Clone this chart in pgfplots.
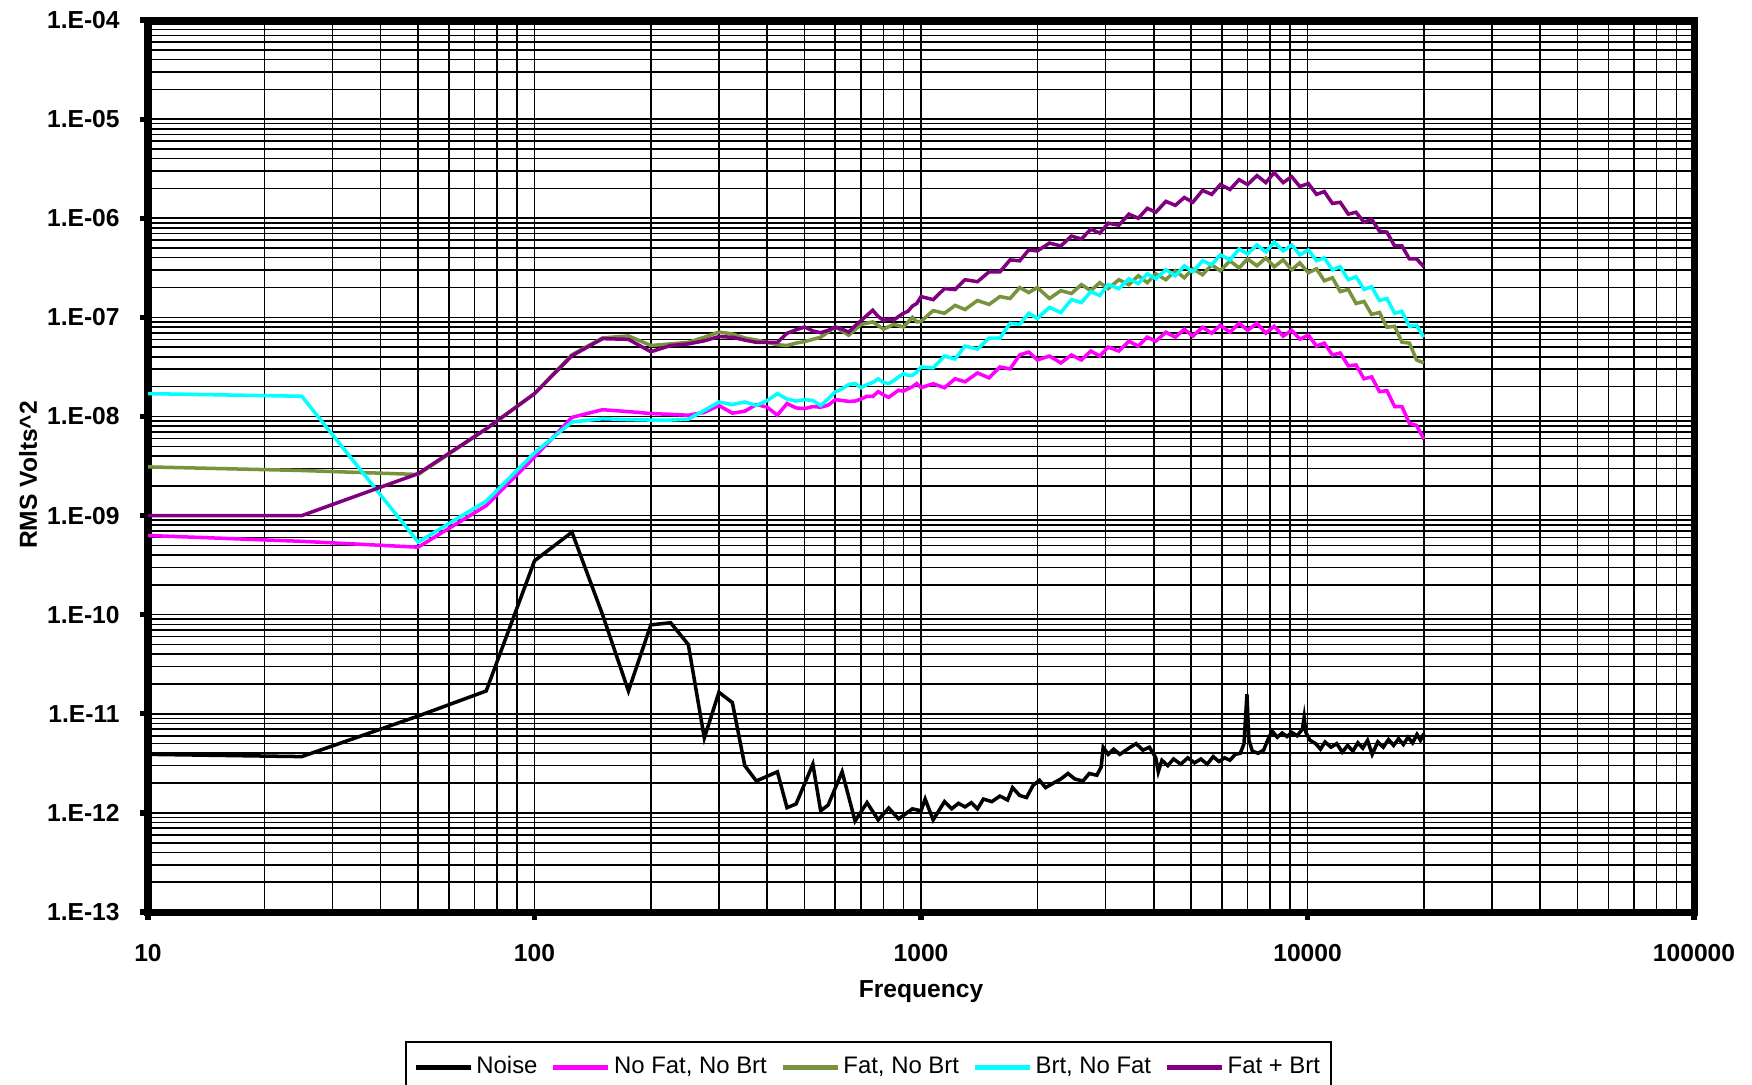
\documentclass[border=0pt]{standalone}
\usepackage{fontspec}
\setmainfont{Liberation Sans}
\usepackage{pgfplots}
\pgfplotsset{compat=1.18}
\definecolor{nofat}{RGB}{255,0,255}
\definecolor{fatnobrt}{RGB}{119,147,60}
\definecolor{brtnofat}{RGB}{0,255,255}
\definecolor{fatbrt}{RGB}{128,0,128}

\begin{document}
\begin{tikzpicture}
\begin{axis}[
  at={(0,0)}, anchor=south west,
  width=15.46cm, height=8.92cm, scale only axis,
  xmode=log, ymode=log,
  xmin=10, xmax=100000, ymin=1e-13, ymax=1e-4,
  xtick={10,100,1000,10000,100000},
  xticklabels={10,100,1000,10000,100000},
  ytick={1e-13,1e-12,1e-11,1e-10,1e-9,1e-8,1e-7,1e-6,1e-5,1e-4},
  yticklabels={1.E-13,1.E-12,1.E-11,1.E-10,1.E-09,1.E-08,1.E-07,1.E-06,1.E-05,1.E-04},
  xmajorgrids, xminorgrids, ymajorgrids, yminorgrids,
  major grid style={black, line width=0.45pt},
  minor grid style={black, line width=0.45pt},
  axis line style={line width=2pt},
  tick style={black, line width=1.5pt},
  major tick length=0.08cm, minor tick length=0pt,
  tick align=outside, xtick pos=left, ytick pos=left,
  tick label style={font=\fontsize{7}{8}\selectfont\bfseries},
  xticklabel style={yshift=-0.12cm},
  yticklabel style={xshift=-0.08cm},
  xlabel={Frequency}, ylabel={RMS Volts\textasciicircum 2},
  label style={font=\fontsize{7}{8}\selectfont\bfseries},
  xlabel style={at={(axis description cs:0.5,-0.0897)}, anchor=center},
  ylabel style={at={(axis description cs:-0.0776,0.49)}, anchor=center},
  legend columns=5, legend cell align=left,
  legend style={at={(axis description cs:0.466,-0.1446)}, anchor=north,
    draw=black, line width=0.6pt, inner sep=2pt,
    font=\fontsize{6.8}{8}\selectfont,
    nodes={inner xsep=1pt},
    /tikz/every even column/.append style={column sep=0.1cm}},
  legend image code/.code={\draw[#1, line width=1.3pt] (0cm,0cm) -- (0.55cm,0cm);},
]
% Noise
\addplot[black, line width=1pt] coordinates {
  (10,3.9e-12)(25,3.7e-12)(50,9.5e-12)(75,1.7e-11)(100,3.5e-10)(125,6.8e-10)
  (150,1.0e-10)(175,1.7e-11)(200,7.9e-11)(225,8.3e-11)(250,5.0e-11)(275,5.7e-12)
  (300,1.65e-11)(325,1.3e-11)(350,3.0e-12)(375,2.1e-12)(425,2.6e-12)(450,1.13e-12)
  (475,1.23e-12)(525,3.1e-12)(550,1.05e-12)(575,1.2e-12)(625,2.6e-12)(675,8.3e-13)
  (725,1.27e-12)(775,8.5e-13)(825,1.12e-12)(875,8.7e-13)(950,1.1e-12)(1000,1.05e-12)
  (1025,1.38e-12)(1075,8.5e-13)(1150,1.3e-12)(1200,1.1e-12)(1250,1.25e-12)(1300,1.15e-12)
  (1350,1.27e-12)(1400,1.1e-12)(1450,1.38e-12)(1525,1.3e-12)(1600,1.48e-12)(1675,1.35e-12)
  (1725,1.8e-12)(1800,1.5e-12)(1875,1.43e-12)(1950,1.9e-12)(2025,2.14e-12)(2100,1.8e-12)
  (2200,2.0e-12)(2300,2.2e-12)(2400,2.5e-12)(2500,2.2e-12)(2625,2.1e-12)(2725,2.5e-12)
  (2850,2.4e-12)(2925,2.9e-12)(2960,4.6e-12)(3050,3.9e-12)(3150,4.4e-12)(3270,3.9e-12)
  (3450,4.5e-12)(3600,5.0e-12)(3750,4.3e-12)(3900,4.6e-12)(4050,3.6e-12)(4110,2.6e-12)
  (4200,3.4e-12)(4350,3.0e-12)(4500,3.5e-12)(4700,3.1e-12)(4900,3.6e-12)(5100,3.2e-12)
  (5300,3.5e-12)(5500,3.1e-12)(5700,3.7e-12)(5900,3.3e-12)(6100,3.6e-12)(6300,3.4e-12)
  (6500,3.9e-12)(6700,4.0e-12)(6850,5.0e-12)(6970,1.58e-11)(7050,5.5e-12)(7200,4.2e-12)
  (7450,4.0e-12)(7700,4.3e-12)(7900,5.5e-12)(8100,6.7e-12)(8350,5.8e-12)(8600,6.4e-12)
  (8850,5.9e-12)(9100,6.5e-12)(9400,6.0e-12)(9700,7.0e-12)(9800,9.2e-12)(9900,6.5e-12)
  (10150,5.4e-12)(10500,5.0e-12)(10800,4.4e-12)(11100,5.2e-12)(11500,4.6e-12)(11900,5.0e-12)
  (12300,4.1e-12)(12700,4.8e-12)(13100,4.2e-12)(13500,5.1e-12)(13900,4.5e-12)(14300,5.4e-12)
  (14700,3.9e-12)(15200,5.2e-12)(15700,4.6e-12)(16200,5.5e-12)(16700,4.8e-12)(17200,5.6e-12)
  (17700,4.9e-12)(18200,5.8e-12)(18700,5.1e-12)(19200,6.2e-12)(19600,5.4e-12)(20000,6.3e-12)
};
\addlegendentry{Noise}
% No Fat, No Brt
\addplot[nofat, line width=1pt] coordinates {
  (10,6.3e-10)(25,5.5e-10)(50,4.8e-10)(75,1.26e-9)(100,3.9e-9)(125,9.8e-9)
  (150,1.17e-8)(175,1.12e-8)(200,1.07e-8)(225,1.05e-8)(250,1.03e-8)(275,1.1e-8)
  (300,1.29e-8)(325,1.08e-8)(350,1.13e-8)(375,1.32e-8)(400,1.24e-8)(425,1.03e-8)
  (450,1.35e-8)(475,1.22e-8)(500,1.2e-8)(525,1.26e-8)(550,1.24e-8)(575,1.3e-8)
  (600,1.48e-8)(625,1.45e-8)(650,1.42e-8)(675,1.43e-8)(700,1.5e-8)(725,1.6e-8)
  (750,1.59e-8)(775,1.78e-8)(800,1.65e-8)(825,1.56e-8)(850,1.7e-8)(875,1.84e-8)
  (900,1.8e-8)(925,1.9e-8)(950,2.0e-8)(975,2.15e-8)
  (1000,1.95e-8)(1075,2.14e-8)(1150,1.95e-8)(1225,2.40e-8)(1300,2.24e-8)(1400,2.75e-8)
  (1500,2.45e-8)(1600,3.16e-8)(1700,3.02e-8)(1800,4.17e-8)(1900,4.47e-8)(2000,3.72e-8)
  (2150,4.07e-8)(2300,3.47e-8)(2450,4.17e-8)(2600,3.72e-8)(2750,4.57e-8)(2900,4.07e-8)
  (3050,5.01e-8)(3250,4.57e-8)(3450,5.75e-8)(3650,5.13e-8)(3850,6.31e-8)(4050,5.75e-8)
  (4300,7.08e-8)(4550,6.31e-8)(4800,7.59e-8)(5050,6.46e-8)(5350,7.94e-8)(5650,6.92e-8)
  (5950,8.32e-8)(6300,7.08e-8)(6650,8.71e-8)(7000,7.41e-8)(7400,8.71e-8)(7800,6.92e-8)
  (8200,8.13e-8)(8650,6.46e-8)(9100,7.41e-8)(9550,6.03e-8)(10050,6.61e-8)(10550,5.13e-8)
  (11050,5.50e-8)(11600,4.17e-8)(12150,4.37e-8)(12750,3.24e-8)(13350,3.31e-8)(14000,2.40e-8)
  (14650,2.51e-8)(15350,1.78e-8)(16050,1.82e-8)(16800,1.26e-8)(17550,1.26e-8)(18350,8.51e-9)
  (19150,8.13e-9)(20000,5.89e-9)
};
\addlegendentry{No Fat,  No Brt}
% Fat, No Brt
\addplot[fatnobrt, line width=1pt] coordinates {
  (10,3.1e-9)(25,2.85e-9)(50,2.6e-9)(75,7.5e-9)(100,1.7e-8)(125,4.2e-8)
  (150,6.2e-8)(175,6.5e-8)(200,5.2e-8)(225,5.4e-8)(250,5.6e-8)(275,6.3e-8)
  (300,7.1e-8)(325,6.8e-8)(350,6.2e-8)(375,5.9e-8)(400,5.6e-8)(425,5.3e-8)
  (450,5.2e-8)(475,5.5e-8)(500,5.7e-8)(550,6.3e-8)(600,8.0e-8)(650,6.6e-8)
  (700,8.5e-8)(750,9.0e-8)(800,7.6e-8)(850,8.5e-8)(900,8.0e-8)(950,1.0e-7)(975,9.0e-8)
  (1000,9.12e-8)(1075,1.17e-7)(1150,1.10e-7)(1225,1.32e-7)(1300,1.20e-7)(1400,1.48e-7)
  (1500,1.35e-7)(1600,1.62e-7)(1700,1.55e-7)(1800,2.00e-7)(1900,1.78e-7)(2000,2.00e-7)
  (2150,1.55e-7)(2300,1.86e-7)(2450,1.74e-7)(2600,2.14e-7)(2750,1.86e-7)(2900,2.24e-7)
  (3050,1.95e-7)(3250,2.40e-7)(3450,2.14e-7)(3650,2.63e-7)(3850,2.24e-7)(4050,2.75e-7)
  (4300,2.40e-7)(4550,2.95e-7)(4800,2.51e-7)(5050,3.09e-7)(5350,2.69e-7)(5650,3.39e-7)
  (5950,2.95e-7)(6300,3.72e-7)(6650,3.16e-7)(7000,3.89e-7)(7400,3.31e-7)(7800,3.98e-7)
  (8200,3.24e-7)(8650,3.80e-7)(9100,3.02e-7)(9550,3.55e-7)(10050,2.82e-7)(10550,3.09e-7)
  (11050,2.34e-7)(11600,2.51e-7)(12150,1.82e-7)(12750,1.91e-7)(13350,1.38e-7)(14000,1.45e-7)
  (14650,1.07e-7)(15350,1.12e-7)(16050,7.94e-8)(16800,8.13e-8)(17550,5.62e-8)(18350,5.50e-8)
  (19150,3.72e-8)(20000,3.47e-8)
};
\addlegendentry{Fat, No Brt}
% Brt, No Fat
\addplot[brtnofat, line width=1pt] coordinates {
  (10,1.7e-8)(25,1.6e-8)(50,5.4e-10)(75,1.4e-9)(100,4.3e-9)(125,8.8e-9)
  (150,9.5e-9)(175,9.3e-9)(200,9.2e-9)(225,9.2e-9)(250,9.4e-9)(275,1.15e-8)
  (300,1.4e-8)(325,1.32e-8)(350,1.4e-8)(375,1.29e-8)(400,1.45e-8)(425,1.7e-8)
  (450,1.5e-8)(475,1.43e-8)(500,1.48e-8)(525,1.45e-8)(550,1.29e-8)(575,1.5e-8)
  (600,1.77e-8)(625,1.9e-8)(650,2.1e-8)(675,2.15e-8)(700,1.95e-8)(725,2.1e-8)
  (750,2.2e-8)(775,2.4e-8)(800,2.2e-8)(825,2.15e-8)(850,2.3e-8)(875,2.5e-8)
  (900,2.7e-8)(925,2.6e-8)(950,2.6e-8)(975,2.8e-8)
  (1000,3.16e-8)(1075,3.09e-8)(1150,4.07e-8)(1225,3.80e-8)(1300,5.13e-8)(1400,4.79e-8)
  (1500,6.17e-8)(1600,6.17e-8)(1700,8.71e-8)(1800,8.51e-8)(1900,1.10e-7)(2000,9.77e-8)
  (2150,1.26e-7)(2300,1.12e-7)(2450,1.51e-7)(2600,1.41e-7)(2750,1.82e-7)(2900,1.66e-7)
  (3050,2.14e-7)(3250,1.95e-7)(3450,2.45e-7)(3650,2.19e-7)(3850,2.75e-7)(4050,2.45e-7)
  (4300,3.02e-7)(4550,2.63e-7)(4800,3.31e-7)(5050,2.88e-7)(5350,3.72e-7)(5650,3.39e-7)
  (5950,4.27e-7)(6300,3.80e-7)(6650,4.90e-7)(7000,4.37e-7)(7400,5.37e-7)(7800,4.57e-7)
  (8200,5.75e-7)(8650,4.68e-7)(9100,5.37e-7)(9550,4.27e-7)(10050,4.79e-7)(10550,3.72e-7)
  (11050,3.98e-7)(11600,3.02e-7)(12150,3.24e-7)(12750,2.40e-7)(13350,2.57e-7)(14000,1.91e-7)
  (14650,2.04e-7)(15350,1.48e-7)(16050,1.55e-7)(16800,1.10e-7)(17550,1.15e-7)(18350,8.13e-8)
  (19150,8.32e-8)(20000,6.31e-8)
};
\addlegendentry{Brt, No Fat}
% Fat + Brt
\addplot[fatbrt, line width=1pt] coordinates {
  (10,1.0e-9)(25,1.0e-9)(50,2.65e-9)(75,7.5e-9)(100,1.7e-8)(125,4.1e-8)
  (150,6.1e-8)(175,6.0e-8)(200,4.5e-8)(225,5.2e-8)(250,5.4e-8)(275,5.8e-8)
  (300,6.4e-8)(325,6.3e-8)(350,5.9e-8)(375,5.6e-8)(400,5.6e-8)(425,5.6e-8)
  (450,6.9e-8)(475,7.5e-8)(500,8.0e-8)(525,7.3e-8)(550,7.0e-8)(575,7.4e-8)
  (600,8.0e-8)(625,7.6e-8)(650,7.1e-8)(675,8.2e-8)(700,9.3e-8)(725,1.05e-7)
  (750,1.18e-7)(775,1.02e-7)(800,9.3e-8)(825,9.6e-8)(850,9.4e-8)(875,1.02e-7)
  (900,1.1e-7)(925,1.15e-7)(950,1.3e-7)(975,1.38e-7)
  (1000,1.62e-7)(1075,1.51e-7)(1150,1.95e-7)(1225,1.91e-7)(1300,2.40e-7)(1400,2.29e-7)
  (1500,2.88e-7)(1600,2.88e-7)(1700,3.80e-7)(1800,3.72e-7)(1900,4.79e-7)(2000,4.68e-7)
  (2150,5.62e-7)(2300,5.25e-7)(2450,6.61e-7)(2600,6.17e-7)(2750,7.76e-7)(2900,7.08e-7)
  (3050,8.91e-7)(3250,8.51e-7)(3450,1.10e-6)(3650,1.00e-6)(3850,1.26e-6)(4050,1.15e-6)
  (4300,1.48e-6)(4550,1.35e-6)(4800,1.62e-6)(5050,1.45e-6)(5350,1.91e-6)(5650,1.74e-6)
  (5950,2.19e-6)(6300,1.95e-6)(6650,2.45e-6)(7000,2.19e-6)(7400,2.69e-6)(7800,2.29e-6)
  (8200,2.88e-6)(8650,2.29e-6)(9100,2.63e-6)(9550,2.09e-6)(10050,2.24e-6)(10550,1.74e-6)
  (11050,1.86e-6)(11600,1.41e-6)(12150,1.45e-6)(12750,1.10e-6)(13350,1.15e-6)(14000,9.12e-7)
  (14650,9.77e-7)(15350,7.41e-7)(16050,7.24e-7)(16800,5.25e-7)(17550,5.25e-7)(18350,3.89e-7)
  (19150,3.89e-7)(20000,3.24e-7)
};
\addlegendentry{Fat + Brt}
\end{axis}
\pgfresetboundingbox
\path (-1.48,-1.72) rectangle (16.04,9.12);
\end{tikzpicture}
\end{document}
